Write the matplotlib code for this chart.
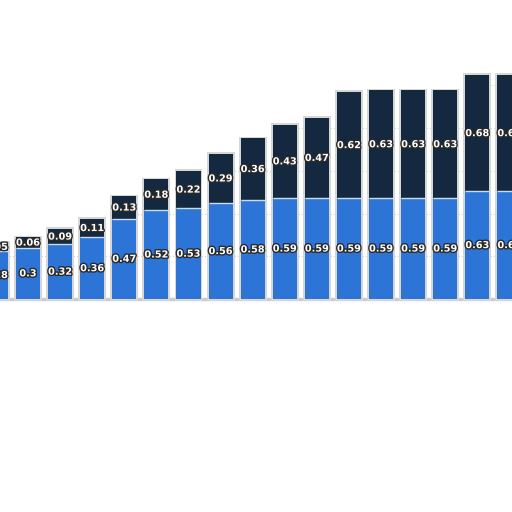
import numpy as np
import matplotlib.pyplot as plt
import matplotlib.patheffects as pe

# stacked values (first and last bars are cut off)
lower = [0.28, 0.3, 0.32, 0.36, 0.47, 0.52, 0.53, 0.56, 0.58,
         0.59, 0.59, 0.59, 0.59, 0.59, 0.59, 0.63, 0.63]
upper = [0.05, 0.06, 0.09, 0.11, 0.13, 0.18, 0.22, 0.29, 0.36,
         0.43, 0.47, 0.62, 0.63, 0.63, 0.63, 0.68, 0.68]

blue = '#2c74d6'
navy = '#14283f'
shadow = '#d6d6d6'

x = np.arange(len(lower))
lower_a = np.array(lower)
upper_a = np.array(upper)
total = lower_a + upper_a

fig = plt.figure(figsize=(5.12, 5.12), dpi=100)
ax = fig.add_axes([0, 0, 1, 1])

w = 0.75

# faint dotted grid, only visible in the gaps between bars
for g in np.arange(0.25, 1.76, 0.25):
    for i in range(len(x) - 1):
        if g < min(total[i], total[i + 1]):
            ax.hlines(g, x[i], x[i + 1], color='#d2d2d2', lw=0.8,
                      ls=(0, (1, 2)), zorder=0)
ax.axhline(0, color='#cccccc', lw=2.5, zorder=1)

# soft grey halo around each stack
ax.bar(x, total + 0.02, width=w + 0.12, bottom=-0.01, color=shadow, zorder=1)
ax.bar(x, lower_a, width=w, color=blue, zorder=2)
ax.bar(x, upper_a, width=w, bottom=lower_a, color=navy, zorder=2)
ax.hlines(lower_a, x - w / 2, x + w / 2, color='#c9dcf5', lw=1, zorder=3)

stroke = [pe.withStroke(linewidth=2, foreground='#2a2a2a')]
for xi, lo, up in zip(x, lower_a, upper_a):
    ax.text(xi, lo / 2, f'{lo:g}', ha='center', va='center', color='white',
            fontsize=7, fontweight='bold', path_effects=stroke, zorder=4)
    ax.text(xi, lo + up / 2, f'{up:g}', ha='center', va='center', color='white',
            fontsize=7, fontweight='bold', path_effects=stroke, zorder=4)

ax.set_xlim(0.128, 16.08)
ax.set_ylim(-1.246, 1.749)
ax.axis('off')

fig.savefig('out.png', dpi=100)
